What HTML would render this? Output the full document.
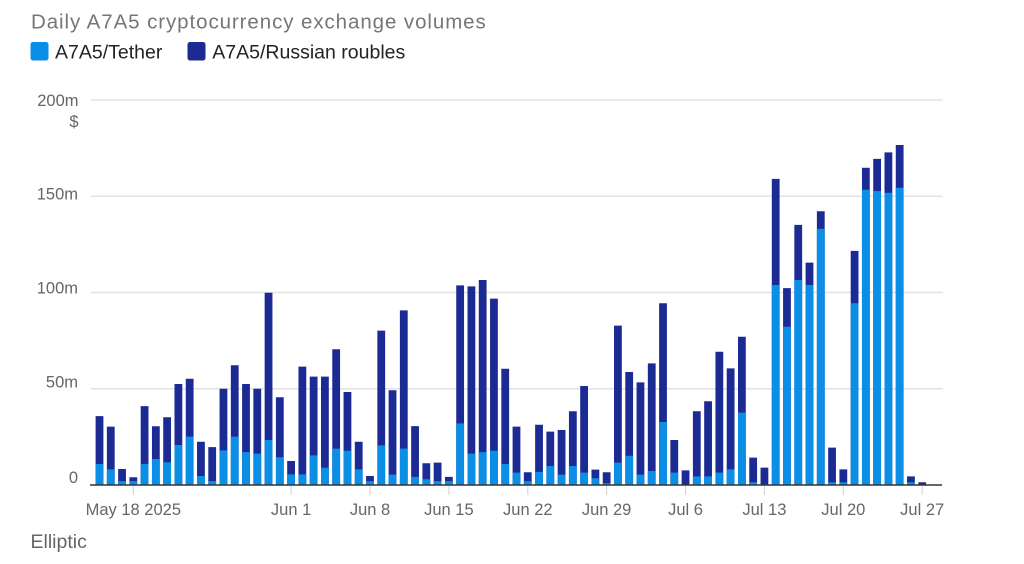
<!DOCTYPE html>
<html>
<head>
<meta charset="utf-8">
<style>
  html, body { margin:0; padding:0; background:#fff; }
  body { width:1024px; height:564px; overflow:hidden; font-family:"Liberation Sans", sans-serif; }
  svg { display:block; }
</style>
</head>
<body>
<svg width="1024" height="564" viewBox="0 0 1024 564" xmlns="http://www.w3.org/2000/svg" font-family="Liberation Sans, sans-serif">
  <text x="31" y="28.5" font-size="20.5" fill="#767676" letter-spacing="0.92">Daily A7A5 cryptocurrency exchange volumes</text>
  <rect x="30.5" y="42" width="18" height="18.5" rx="2.5" fill="#0b8fe6"/>
  <text x="55" y="58.3" font-size="19.5" fill="#222">A7A5/Tether</text>
  <rect x="187.5" y="42" width="18" height="18.5" rx="2.5" fill="#1c2a93"/>
  <text x="212.3" y="58.3" font-size="19.5" fill="#222">A7A5/Russian roubles</text>

  <g stroke="#e2e2e2" stroke-width="1.5">
    <line x1="90.7" y1="100" x2="942.7" y2="100"/>
    <line x1="90.7" y1="196.25" x2="942.7" y2="196.25"/>
    <line x1="90.7" y1="292.5" x2="942.7" y2="292.5"/>
    <line x1="90.7" y1="388.75" x2="942.7" y2="388.75"/>
  </g>

  <g font-size="16.5" fill="#666" text-anchor="end">
    <text x="78.5" y="106.2">200m</text>
    <text x="78.5" y="127">$</text>
    <text x="78" y="199.5">150m</text>
    <text x="78" y="293.5">100m</text>
    <text x="78" y="387.5">50m</text>
    <text x="78" y="483">0</text>
  </g>

  <g transform="translate(0,485) scale(1,-1.925)">
    <path fill="#1c2a93" d="M95.6 0
      v35.8h7.8v-35.8z m11.27 0 v30.3h7.8v-30.3z m11.27 0 v8.3h7.8v-8.3z m11.27 0 v4h7.8v-4z m11.27 0
      v41h7.8v-41z m11.27 0 v30.5h7.8v-30.5z m11.27 0 v35.2h7.8v-35.2z m11.27 0 v52.5h7.8v-52.5z m11.27 0
      v55.2h7.8v-55.2z m11.27 0 v22.5h7.8v-22.5z m11.27 0 v19.7h7.8v-19.7z m11.27 0 v50h7.8v-50z m11.27 0
      v62.2h7.8v-62.2z m11.27 0 v52.5h7.8v-52.5z m11.27 0 v50h7.8v-50z m11.27 0 v99.9h7.8v-99.9z m11.27 0
      v45.6h7.8v-45.6z m11.27 0 v12.5h7.8v-12.5z m11.27 0 v61.5h7.8v-61.5z m11.27 0 v56.3h7.8v-56.3z m11.27 0
      v56.3h7.8v-56.3z m11.27 0 v70.5h7.8v-70.5z m11.27 0 v48.3h7.8v-48.3z m11.27 0 v22.5h7.8v-22.5z m11.27 0
      v4.7h7.8v-4.7z m11.27 0 v80.2h7.8v-80.2z m11.27 0 v49.2h7.8v-49.2z m11.27 0 v90.7h7.8v-90.7z m11.27 0
      v30.6h7.8v-30.6z m11.27 0 v11.3h7.8v-11.3z m11.27 0 v11.6h7.8v-11.6z m11.27 0 v4.2h7.8v-4.2z m11.27 0
      v103.7h7.8v-103.7z m11.27 0 v103.2h7.8v-103.2z m11.27 0 v106.5h7.8v-106.5z m11.27 0 v96.8h7.8v-96.8z m11.27 0
      v60.4h7.8v-60.4z m11.27 0 v30.3h7.8v-30.3z m11.27 0 v6.6h7.8v-6.6z m11.27 0 v31.3h7.8v-31.3z m11.27 0
      v27.7h7.8v-27.7z m11.27 0 v28.6h7.8v-28.6z m11.27 0 v38.3h7.8v-38.3z m11.27 0 v51.4h7.8v-51.4z m11.27 0
      v8h7.8v-8z m11.27 0 v6.6h7.8v-6.6z m11.27 0 v82.8h7.8v-82.8z m11.27 0 v58.7h7.8v-58.7z m11.27 0
      v53.3h7.8v-53.3z m11.27 0 v63.2h7.8v-63.2z m11.27 0 v94.4h7.8v-94.4z m11.27 0 v23.4h7.8v-23.4z m11.27 0
      v7.6h7.8v-7.6z m11.27 0 v38.3h7.8v-38.3z m11.27 0 v43.5h7.8v-43.5z m11.27 0 v69.2h7.8v-69.2z m11.27 0
      v60.6h7.8v-60.6z m11.27 0 v77h7.8v-77z m11.27 0 v14.2h7.8v-14.2z m11.27 0 v9h7.8v-9z m11.27 0
      v159h7.8v-159z m11.27 0 v102.3h7.8v-102.3z m11.27 0 v135.1h7.8v-135.1z m11.27 0 v115.5h7.8v-115.5z m11.27 0
      v142.2h7.8v-142.2z m11.27 0 v19.4h7.8v-19.4z m11.27 0 v8.1h7.8v-8.1z m11.27 0 v121.6h7.8v-121.6z m11.27 0
      v164.8h7.8v-164.8z m11.27 0 v169.4h7.8v-169.4z m11.27 0 v172.8h7.8v-172.8z m11.27 0 v176.6h7.8v-176.6z m11.27 0
      v4.5h7.8v-4.5z m11.27 0 v1.4h7.8v-1.4z"/>
    <path fill="#0b8fe6" d="M95.6 0
      v10.9h7.8v-10.9z m11.27 0 v8.1h7.8v-8.1z m11.27 0 v2h7.8v-2z m11.27 0 v2h7.8v-2z m11.27 0
      v11h7.8v-11z m11.27 0 v13.5h7.8v-13.5z m11.27 0 v11.8h7.8v-11.8z m11.27 0 v20.8h7.8v-20.8z m11.27 0
      v25.1h7.8v-25.1z m11.27 0 v4.7h7.8v-4.7z m11.27 0 v2h7.8v-2z m11.27 0 v18h7.8v-18z m11.27 0
      v25.1h7.8v-25.1z m11.27 0 v17.1h7.8v-17.1z m11.27 0 v16.3h7.8v-16.3z m11.27 0 v23.4h7.8v-23.4z m11.27 0
      v14.4h7.8v-14.4z m11.27 0 v5.5h7.8v-5.5z m11.27 0 v5.5h7.8v-5.5z m11.27 0 v15.4h7.8v-15.4z m11.27 0
      v9h7.8v-9z m11.27 0 v18.9h7.8v-18.9z m11.27 0 v17.8h7.8v-17.8z m11.27 0 v8.1h7.8v-8.1z m11.27 0
      v2h7.8v-2z m11.27 0 v20.6h7.8v-20.6z m11.27 0 v5.4h7.8v-5.4z m11.27 0 v18.9h7.8v-18.9z m11.27 0
      v4.2h7.8v-4.2z m11.27 0 v3h7.8v-3z m11.27 0 v2h7.8v-2z m11.27 0 v2h7.8v-2z m11.27 0
      v32h7.8v-32z m11.27 0 v16.3h7.8v-16.3z m11.27 0 v17.1h7.8v-17.1z m11.27 0 v17.8h7.8v-17.8z m11.27 0
      v10.9h7.8v-10.9z m11.27 0 v6.4h7.8v-6.4z m11.27 0 v2h7.8v-2z m11.27 0 v6.8h7.8v-6.8z m11.27 0
      v9.9h7.8v-9.9z m11.27 0 v5.4h7.8v-5.4z m11.27 0 v9.9h7.8v-9.9z m11.27 0 v6.4h7.8v-6.4z m11.27 0
      v3.5h7.8v-3.5z m11.27 0 v1h7.8v-1z m11.27 0 v11.6h7.8v-11.6z m11.27 0 v15.2h7.8v-15.2z m11.27 0
      v5.4h7.8v-5.4z m11.27 0 v7.3h7.8v-7.3z m11.27 0 v32.7h7.8v-32.7z m11.27 0 v6.4h7.8v-6.4z m11.27 0
      v0.3h7.8v-0.3z m11.27 0 v4.5h7.8v-4.5z m11.27 0 v4.5h7.8v-4.5z m11.27 0 v6.4h7.8v-6.4z m11.27 0
      v8.1h7.8v-8.1z m11.27 0 v37.6h7.8v-37.6z m11.27 0 v1.4h7.8v-1.4z m11.27 0 v0.3h7.8v-0.3z m11.27 0
      v103.9h7.8v-103.9z m11.27 0 v82.2h7.8v-82.2z m11.27 0 v106.5h7.8v-106.5z m11.27 0 v103.9h7.8v-103.9z m11.27 0
      v133.1h7.8v-133.1z m11.27 0 v1.4h7.8v-1.4z m11.27 0 v1.4h7.8v-1.4z m11.27 0 v94.4h7.8v-94.4z m11.27 0
      v153.4h7.8v-153.4z m11.27 0 v152.7h7.8v-152.7z m11.27 0 v151.8h7.8v-151.8z m11.27 0 v154.4h7.8v-154.4z m11.27 0
      v1.4h7.8v-1.4z"/>
  </g>

  <line x1="90" y1="485" x2="942" y2="485" stroke="#333" stroke-width="1.6"/>

  <path stroke="#cfcfcf" stroke-width="1" fill="none" d="M133.3 486v9 M291.1 486v9 M370 486v9 M448.9 486v9 M527.8 486v9 M606.6 486v9 M685.5 486v9 M764.4 486v9 M843.3 486v9 M922.2 486v9"/>

  <g font-size="16.5" fill="#666" text-anchor="middle">
    <text x="133.3" y="515">May 18 2025</text>
    <text x="291.1" y="515">Jun 1</text>
    <text x="370.0" y="515">Jun 8</text>
    <text x="448.9" y="515">Jun 15</text>
    <text x="527.8" y="515">Jun 22</text>
    <text x="606.6" y="515">Jun 29</text>
    <text x="685.5" y="515">Jul 6</text>
    <text x="764.4" y="515">Jul 13</text>
    <text x="843.3" y="515">Jul 20</text>
    <text x="922.2" y="515">Jul 27</text>
  </g>

  <text x="30.5" y="548" font-size="19.5" fill="#666">Elliptic</text>
</svg>
</body>
</html>
